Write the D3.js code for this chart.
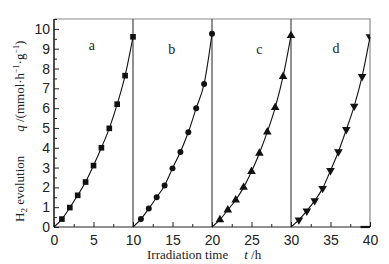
<!DOCTYPE html>
<html>
<head>
<meta charset="utf-8">
<script src="https://cdn.jsdelivr.net/npm/d3@7"></script>
<style>
  body { margin: 0; background: #fff; }
  svg { display: block; }
</style>
</head>
<body>
<div id="chart"></div>
<script>
// hours from start of each run (0 = start, no marker drawn there)
const runHours = [0, 1, 2, 3, 4, 5, 6, 7, 8, 9, 10];
const runStarts = [0, 10, 20, 30];
const runLabels = ["a", "b", "c", "d"];
const runA = [0, 0.4, 0.98, 1.6, 2.27, 3.1, 4.0, 4.98, 6.2, 7.64, 9.6];
const runB = [0, 0.4, 0.93, 1.5, 2.1, 2.96, 3.79, 4.78, 6.0, 7.22, 9.75];
const runC = [0, 0.37, 0.86, 1.36, 2.0, 2.8, 3.72, 4.8, 6.03, 7.6, 9.66];
const runD = [0, 0.36, 0.81, 1.33, 1.95, 2.85, 3.8, 4.92, 6.1, 7.6, 9.6];
const xTicks = [0, 5, 10, 15, 20, 25, 30, 35, 40];
const yTicks = [0, 1, 2, 3, 4, 5, 6, 7, 8, 9, 10];

const runs = [runA, runB, runC, runD];
const symbols = [d3.symbolSquare, d3.symbolCircle, d3.symbolTriangle, d3.symbolTriangle];
const symSizes = [32, 28, 32, 32];
const labelShift = [-0.2, -0.1, 1.0, 0.7];   // run-label offsets, in hours
const labelY = [31, 35, 35, 34];

const margin = { top: 19, right: 19, bottom: 37, left: 54 };
const W = 389, H = 264;
const width = W - margin.left - margin.right;
const height = H - margin.top - margin.bottom;

const svg = d3.select("#chart").append("svg")
    .attr("width", W)
    .attr("height", H)
    .style("font-family", "'Liberation Serif', 'Times New Roman', serif");

const g = svg.append("g")
    .attr("transform", `translate(${margin.left},${margin.top})`);

const x = d3.scaleLinear().domain([0, 40]).range([0, width]);
const y = d3.scaleLinear().domain([0, 10.5]).range([height, 0]);

g.append("defs").append("clipPath").attr("id", "plotclip")
    .append("rect").attr("width", width).attr("height", height);

// frame (top + right, gray)
g.append("path")
    .attr("d", `M0,0H${width}V${height}`)
    .attr("fill", "none")
    .attr("stroke", "#8a8a8a")
    .attr("stroke-width", 1.2);

// separators between runs
g.selectAll(".sep")
    .data(runStarts.slice(1))
    .enter().append("line")
    .attr("x1", d => x(d)).attr("x2", d => x(d))
    .attr("y1", 0).attr("y2", height)
    .attr("stroke", "#555")
    .attr("stroke-width", 1.3);

// axes
const xAxis = g.append("g")
    .attr("transform", `translate(0,${height})`)
    .call(d3.axisBottom(x).tickValues(xTicks).tickSize(-5).tickPadding(8));
const xMinor = g.append("g")
    .attr("transform", `translate(0,${height})`)
    .call(d3.axisBottom(x).tickValues(xTicks.slice(0, -1).map(d => d + 2.5)).tickSize(-3).tickFormat(""));

const yAxis = g.append("g")
    .call(d3.axisLeft(y).tickValues(yTicks).tickSize(-5).tickPadding(4));
const yMinor = g.append("g")
    .call(d3.axisLeft(y).tickValues(yTicks.map(d => d + 0.5)).tickSize(-3).tickFormat(""));

[xAxis, xMinor, yAxis, yMinor].forEach(a => {
    a.select(".domain").attr("stroke", "#222").attr("stroke-width", 1.1);
    a.selectAll(".tick line").attr("stroke", "#222");
});
yMinor.select(".domain").attr("d", `M0,${height}V0`);
yAxis.select(".domain").attr("d", `M0,${height}V0`);
xAxis.select(".domain").attr("d", `M0,0H${width}`);
xMinor.select(".domain").remove();
[xAxis, yAxis].forEach(a => a.selectAll(".tick text")
    .style("font-size", "14px")
    .attr("fill", "#222"));

// curves and markers
const line = d3.line()
    .x(d => x(d.t))
    .y(d => y(d.v))
    .curve(d3.curveMonotoneX);

runs.forEach((vals, i) => {
    const pts = runHours.map((h, j) => ({ t: runStarts[i] + h, v: vals[j] }));
    g.append("path")
        .datum(pts)
        .attr("fill", "none")
        .attr("stroke", "#111")
        .attr("stroke-width", 1.1)
        .attr("d", line);

    g.append("g").attr("clip-path", "url(#plotclip)")
        .selectAll("path")
        .data(pts.slice(1))
        .enter().append("path")
        .attr("d", d3.symbol().type(symbols[i]).size(symSizes[i]))
        .attr("transform", d => `translate(${x(d.t)},${y(d.v)})` + (i === 3 ? " rotate(180)" : ""))
        .attr("fill", "#111");

    g.append("text")
        .attr("x", x(runStarts[i] + 5 + labelShift[i]))
        .attr("y", labelY[i])
        .attr("text-anchor", "middle")
        .style("font-size", "14px")
        .attr("fill", "#222")
        .text(runLabels[i]);
});

// small dash at the end of the x axis
g.append("line")
    .attr("x1", x(38.8)).attr("x2", x(40))
    .attr("y1", height).attr("y2", height)
    .attr("stroke", "#111").attr("stroke-width", 2.2);

// axis titles
const xt = svg.append("text")
    .attr("x", 147)
    .attr("y", 259)
    .style("font-size", "13px")
    .attr("fill", "#222");
xt.append("tspan").text("Irradiation time");
xt.append("tspan").attr("dx", 16).style("font-style", "italic").text("t");
xt.append("tspan").text(" /h");

const yt = svg.append("text")
    .attr("transform", "translate(24,222) rotate(-90)")
    .style("font-size", "13px")
    .attr("fill", "#222");
yt.append("tspan").text("H");
yt.append("tspan").attr("dy", 3).style("font-size", "9px").text("2");
yt.append("tspan").attr("dy", -3).text(" evolution");
yt.append("tspan").attr("dx", 24).style("font-style", "italic").text("q");
yt.append("tspan").text(" /(mmol·h");
yt.append("tspan").attr("dy", -5).style("font-size", "8px").text("−1");
yt.append("tspan").attr("dy", 5).text("·g");
yt.append("tspan").attr("dy", -5).style("font-size", "8px").text("−1");
yt.append("tspan").attr("dy", 5).text(")");
</script>
</body>
</html>
